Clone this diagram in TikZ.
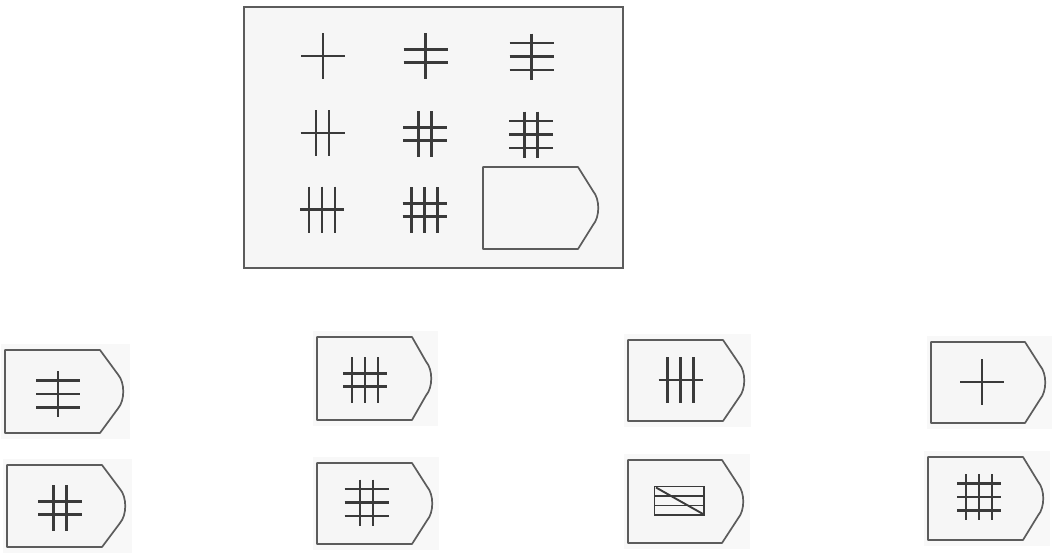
\documentclass[tikz,border=0pt]{standalone}
\usetikzlibrary{calc}
\definecolor{outl}{HTML}{5C5C5C}
\definecolor{ink}{HTML}{3A3A3A}
\definecolor{paper}{HTML}{F6F6F6}
\definecolor{optpaper}{HTML}{F8F8F8}
\tikzset{
  frame/.style={draw=outl,line width=2pt,fill=paper},
  tagbox/.style={draw=outl,line width=1.7pt,fill=paper,line join=round},
  optbg/.style={fill=optpaper,draw=none},
  bar/.style={draw=ink,line width=2.8pt},
  thinbar/.style={draw=ink,line width=1.9pt},
}
% #1 cx, #2 cy, #3 number of horizontal bars, #4 number of vertical bars
\newcommand\glyphgrid[4]{%
  \foreach \i in {1,...,#3}{\draw[bar] ({#1-22},{#2+(\i-(#3+1)/2)*13.5}) -- ++(44,0);}
  \foreach \j in {1,...,#4}{\draw[bar] ({#1+(\j-(#4+1)/2)*13},{#2-23}) -- ++(0,46);}
}
% #1 left, #2 top, #3 corner x, #4 tip x, #5 bottom
\newcommand\tagshape[5]{%
  \draw[tagbox] (#1,#2) -- (#3,#2) -- ({#4-7},{(#2+#5)/2-17})
    .. controls ({#4},{(#2+#5)/2-9}) and ({#4},{(#2+#5)/2+9}) .. ({#4-7},{(#2+#5)/2+17})
    -- (#3,#5) -- (#1,#5) -- cycle;
}
\newcommand\option[5]{%
  \fill[optbg] ({#1-4},{#2-6}) rectangle ({#4+5},{#5+6});
  \tagshape{#1}{#2}{#3}{#4}{#5}
}
\begin{document}
\begin{tikzpicture}[x=1pt,y=-1pt]
\useasboundingbox (0,0) rectangle (1053,552);
% main panel
\draw[frame] (244,7) rectangle (623,268);
\glyphgrid{323}{56}{1}{1}
\glyphgrid{425.5}{56}{2}{1}
\glyphgrid{531.5}{56.5}{3}{1}
\glyphgrid{322.5}{133}{1}{2}
\glyphgrid{425}{134}{2}{2}
\glyphgrid{531}{134.5}{3}{2}
\glyphgrid{322}{209.5}{1}{3}
\glyphgrid{424.5}{210}{2}{3}
\tagshape{483}{167}{578}{600}{249}
% options
\option{5}{350}{100}{125}{433}
\glyphgrid{58}{394}{3}{1}
\option{7}{465}{102}{127}{547}
\glyphgrid{60}{508}{2}{2}
\option{317}{337}{412}{433}{420}
\glyphgrid{365}{380}{2}{3}
\option{317}{463}{412}{434}{544}
\glyphgrid{366.5}{502.5}{3}{2}
\option{628}{340}{723}{746}{421}
\glyphgrid{680.5}{380}{1}{3}
\option{628}{460}{722}{745}{543}
\draw[thinbar] (654.5,486.5) rectangle (704,515);
\draw[thinbar] (654.5,496) -- (704,496);
\draw[thinbar] (654.5,505.5) -- (704,505.5);
\draw[thinbar] (656,487.5) -- (703,514);
\option{931}{342}{1025}{1047}{423}
\glyphgrid{982}{382}{1}{1}
\option{928}{457}{1023}{1045}{540}
\glyphgrid{979}{497}{3}{3}
\end{tikzpicture}
\end{document}
